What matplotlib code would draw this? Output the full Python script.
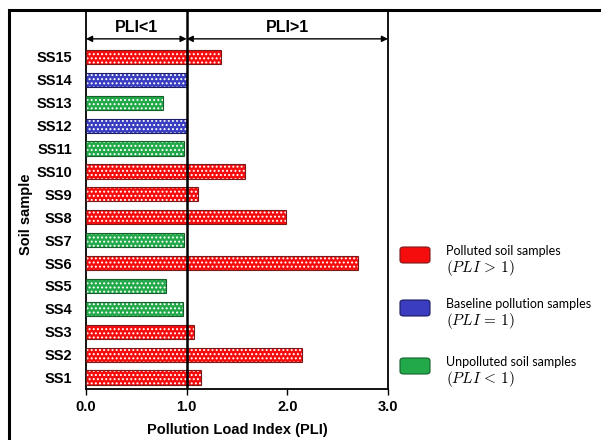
"""
Horizontal bar chart of the Pollution Load Index (PLI) per soil sample.
"""

import matplotlib
matplotlib.use("Agg")
import matplotlib.pyplot as plt
from matplotlib.patches import FancyBboxPatch, Rectangle

samples = ["SS1", "SS2", "SS3", "SS4", "SS5", "SS6", "SS7", "SS8",
           "SS9", "SS10", "SS11", "SS12", "SS13", "SS14", "SS15"]
pli = [1.14, 2.15, 1.07, 0.96, 0.79, 2.70, 0.97, 1.99,
       1.11, 1.58, 0.97, 1.00, 0.76, 1.00, 1.34]
# class of each sample: polluted / baseline / unpolluted
status = ["polluted", "polluted", "polluted", "unpolluted", "unpolluted",
          "polluted", "unpolluted", "polluted", "polluted", "polluted",
          "unpolluted", "baseline", "unpolluted", "baseline", "polluted"]

legend_titles = ["Polluted soil samples", "Baseline pollution samples",
                 "Unpolluted soil samples"]
legend_math = [r"$(PLI\,>\,1)$", r"$(PLI\,=\,1)$", r"$(PLI\,<\,1)$"]
legend_keys = ["polluted", "baseline", "unpolluted"]

colors = {"polluted": "#f50d0d", "baseline": "#3a3dbf", "unpolluted": "#22a94a"}
edges = {"polluted": "#7a1a1a", "baseline": "#1c1d60", "unpolluted": "#17602c"}

plt.rcParams["font.family"] = ["Liberation Sans", "DejaVu Sans"]
plt.rcParams["hatch.linewidth"] = 0.9

fig = plt.figure(figsize=(6.01, 4.40), dpi=100)
ax = fig.add_axes([86 / 601, 1 - 389 / 440, 302 / 601, 379 / 440])

y = list(range(len(samples)))
for yi, v, s in zip(y, pli, status):
    ax.barh(yi, v, height=0.62, color=colors[s], edgecolor="white",
            hatch="....", linewidth=0, zorder=2)
    ax.barh(yi, v, height=0.62, fill=False, edgecolor=edges[s],
            linewidth=0.8, zorder=3)

ax.set_xlim(0, 3.0)
ax.set_ylim(-0.5, 16.05)
ax.set_xticks([0, 1, 2, 3])
ax.set_xticklabels(["0.0", "1.0", "2.0", "3.0"], fontsize=10.5, fontweight="bold")
ax.set_yticks(y)
ax.set_yticklabels(samples, fontsize=10.5, fontweight="bold")
ax.tick_params(axis="y", length=0, pad=10)
ax.tick_params(axis="x", length=4, width=1, direction="out", pad=4)

for sp in ax.spines.values():
    sp.set_linewidth(1.3)
ax.spines["top"].set_visible(False)

ax.axvline(1.0, color="black", linewidth=1.8, zorder=4)

ax.set_xlabel("Pollution Load Index (PLI)", fontsize=10.5, fontweight="bold")
ax.set_ylabel("Soil sample", fontsize=10.5, fontweight="bold")
ax.xaxis.set_label_coords(0.5, (389 - 430) / 379)
ax.yaxis.set_label_coords((26 - 86) / 302, (389 - 214) / 379)
ax.xaxis.label.set_va("center")
ax.yaxis.label.set_va("center")

# header arrows for the two PLI ranges
arrow_y = 14.79
for x0, x1, label in [(0, 1, "PLI<1"), (1, 3, "PLI>1")]:
    ax.annotate("", xy=(x0, arrow_y), xytext=(x1, arrow_y),
                arrowprops=dict(arrowstyle="<|-|>", color="black", lw=1.0,
                                mutation_scale=9, shrinkA=0, shrinkB=0))
    ax.text((x0 + x1) / 2, 15.27, label, ha="center", va="center",
            fontsize=11.5, fontweight="bold")

# outer frame
fig.add_artist(Rectangle((9 / 601, -0.2), 1.2, 1.2 - 10 / 440,
                         transform=fig.transFigure, fill=False,
                         edgecolor="black", linewidth=2.2))

# legend on the right
box_tops = [247, 300, 358]
for top, key, title, math in zip(box_tops, legend_keys, legend_titles, legend_math):
    fig.add_artist(FancyBboxPatch((400 / 601, 1 - (top + 16) / 440), 30 / 601, 16 / 440,
                                  boxstyle="round,pad=0,rounding_size=0.006",
                                  transform=fig.transFigure, facecolor=colors[key],
                                  edgecolor=edges[key], linewidth=0.8))
    fig.text(446 / 601, 1 - (top + 4) / 440, title, fontsize=9,
             family=["Lato", "DejaVu Sans"], ha="left", va="center")
    fig.text(446 / 601, 1 - (top + 21) / 440, math, fontsize=11,
             math_fontfamily="cm", ha="left", va="center")

fig.savefig("out.png", dpi=100)
